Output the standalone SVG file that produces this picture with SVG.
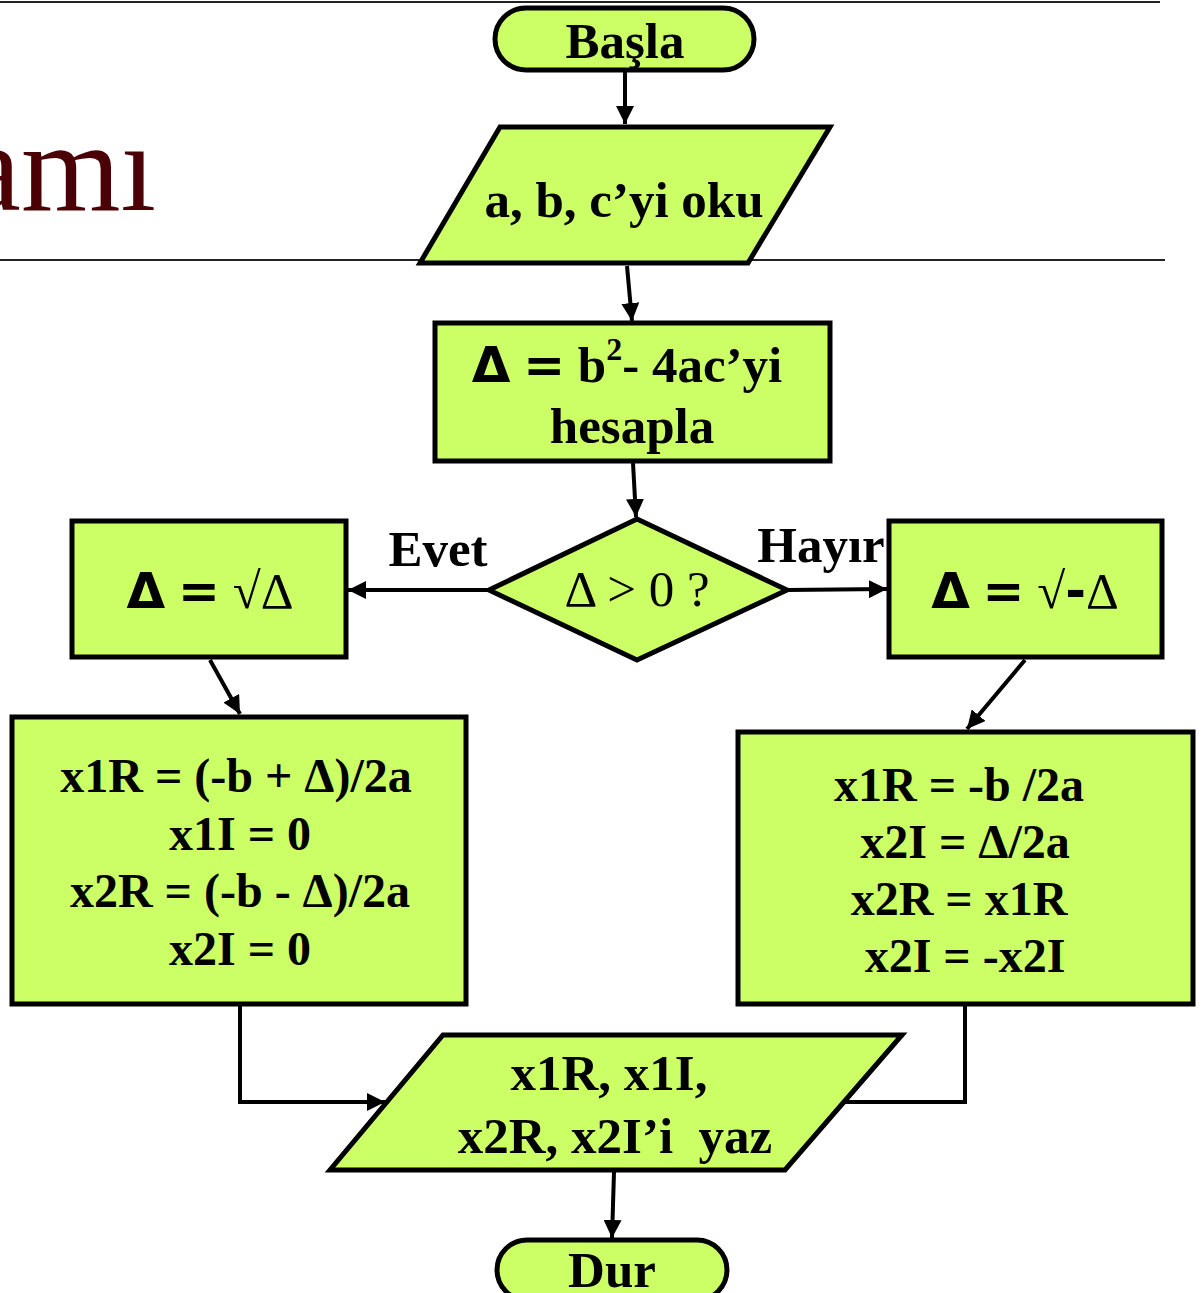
<svg xmlns="http://www.w3.org/2000/svg" width="1201" height="1293" viewBox="0 0 1201 1293">
<style>
.n{fill:#ccff66;stroke:#000;stroke-width:5}
.t{font-family:"Liberation Serif",serif;font-weight:bold;font-size:51px;fill:#000;text-anchor:middle}
.b{font-size:48px}
.sym{font-family:"DejaVu Sans",sans-serif;font-weight:bold;font-size:50px}
.reg{font-weight:normal}
.c{fill:none;stroke:#000;stroke-width:4}
.rule{stroke:#222;stroke-width:2}
</style>
<defs>
<marker id="ah" markerUnits="userSpaceOnUse" markerWidth="20" markerHeight="18" refX="18" refY="9" orient="auto">
<path d="M0,0 L18,9 L0,18 Z" fill="#000"/>
</marker>
</defs>
<rect width="1201" height="1293" fill="#fff"/>
<g id="title">
<line class="rule" x1="0" y1="2" x2="1160" y2="2"/>
<line class="rule" x1="0" y1="260" x2="1165" y2="260"/>
<text x="156" y="210" font-family="Liberation Serif, serif" font-size="128" fill="#4a0004" text-anchor="end">amı</text>
</g>
<g id="connectors">
<line class="c" x1="625" y1="70" x2="625" y2="124" marker-end="url(#ah)"/>
<line class="c" x1="627" y1="266" x2="632" y2="321" marker-end="url(#ah)"/>
<line class="c" x1="633" y1="463" x2="636" y2="517" marker-end="url(#ah)"/>
<line class="c" x1="489" y1="590" x2="348" y2="590" marker-end="url(#ah)"/>
<line class="c" x1="787" y1="590" x2="887" y2="589" marker-end="url(#ah)"/>
<line class="c" x1="210" y1="660" x2="240" y2="714" marker-end="url(#ah)"/>
<line class="c" x1="1025" y1="660" x2="967" y2="729" marker-end="url(#ah)"/>
<polyline class="c" points="240,1006 240,1102 385,1102" marker-end="url(#ah)"/>
<polyline class="c" points="965,1006 965,1102 818,1102" marker-end="url(#ah)"/>
<line class="c" x1="614" y1="1172" x2="612" y2="1238" marker-end="url(#ah)"/>
<text class="t" x="438" y="566" font-size="46">Evet</text>
<text class="t" x="821" y="562" font-size="46">Hayır</text>
</g>
<g id="start">
<rect class="n" x="495" y="8" width="259" height="62" rx="31"/>
<text class="t" x="625" y="58">Başla</text>
</g>
<g id="read">
<polygon class="n" points="500,127 830,127 748,263 420,263"/>
<text class="t" x="624" y="217" font-size="53">a, b, c’yi oku</text>
</g>
<g id="calc">
<rect class="n" x="435" y="323" width="395" height="138"/>
<text class="t" x="627" y="382" font-size="53"><tspan class="sym">Δ</tspan> <tspan class="sym">=</tspan> b<tspan font-size="32" dy="-22">2</tspan><tspan dy="22">- 4ac’yi</tspan></text>
<text class="t" x="632" y="443" font-size="53">hesapla</text>
</g>
<g id="decision">
<polygon class="n" points="637,519 787,590 637,660 489,590"/>
<text class="t reg" x="637" y="606" font-size="48">Δ &gt; 0 ?</text>
</g>
<g id="yesbox">
<rect class="n" x="72" y="521" width="274" height="136"/>
<text class="t" x="210" y="608" font-size="54"><tspan class="sym">Δ</tspan> <tspan class="sym">=</tspan> <tspan class="reg">√Δ</tspan></text>
</g>
<g id="nobox">
<rect class="n" x="889" y="521" width="273" height="136"/>
<text class="t" x="1025" y="608" font-size="54"><tspan class="sym">Δ</tspan> <tspan class="sym">=</tspan> <tspan class="reg">√</tspan><tspan class="sym">-</tspan><tspan class="reg">Δ</tspan></text>
</g>
<g id="realroots">
<rect class="n" x="12" y="717" width="454" height="287"/>
<text class="t b" x="236" y="792">x1R = (-b + Δ)/2a</text>
<text class="t b" x="240" y="850">x1I = 0</text>
<text class="t b" x="240" y="907">x2R = (-b - Δ)/2a</text>
<text class="t b" x="240" y="965">x2I = 0</text>
</g>
<g id="complexroots">
<rect class="n" x="738" y="732" width="455" height="272"/>
<text class="t b" x="959" y="801">x1R = -b /2a</text>
<text class="t b" x="965" y="858">x2I = Δ/2a</text>
<text class="t b" x="959" y="915">x2R = x1R</text>
<text class="t b" x="965" y="972">x2I = -x2I</text>
</g>
<g id="write">
<polygon class="n" points="443,1035 902,1035 785,1170 330,1170"/>
<text class="t" x="609" y="1090" font-size="53">x1R, x1I,</text>
<text class="t" x="615" y="1153" font-size="53">x2R, x2I’i&#160; yaz</text>
</g>
<g id="stop">
<rect class="n" x="497" y="1240" width="230" height="60" rx="30"/>
<text class="t" x="612" y="1287">Dur</text>
</g>
</svg>
